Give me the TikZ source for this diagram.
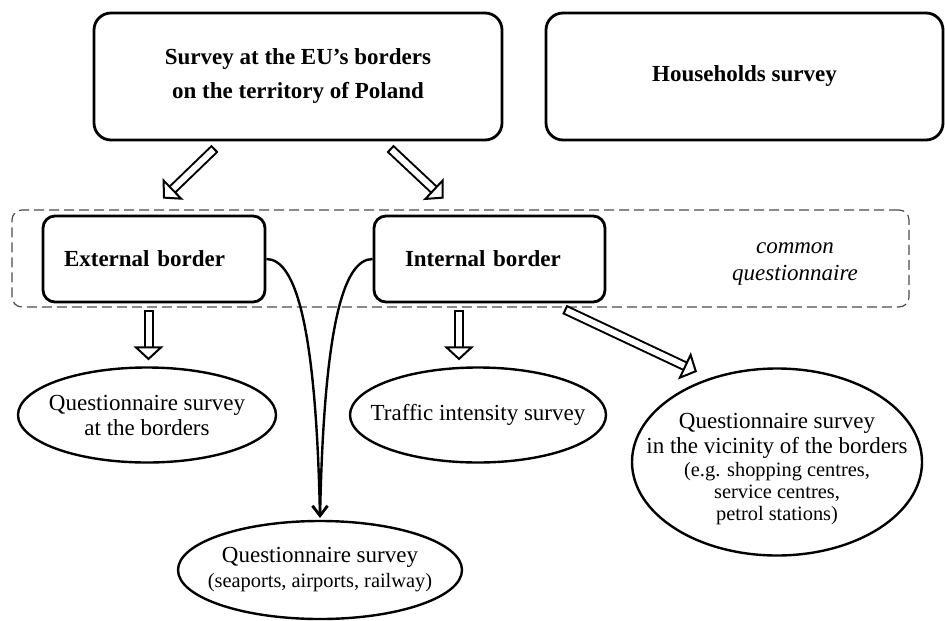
\documentclass[tikz,border=0pt]{standalone}
\usepackage{fontspec}
\setmainfont{Liberation Serif}
\usetikzlibrary{shapes.geometric,arrows.meta}
\tikzset{>=stealth}
\newcommand{\smalltxt}{\fontsize{10.2}{10.5}\selectfont}
\tikzset{%
    bigbox/.style={draw, line width=1.4pt, rounded corners=8.5pt, align=center,
        minimum height=63.5pt, font=\fontsize{11.5}{12.5}\selectfont\bfseries},
    borderbox/.style={draw, line width=1.4pt, rounded corners=6pt, align=left,
        minimum height=43pt, font=\fontsize{11.5}{12.5}\selectfont\bfseries},
    oval/.style={draw, ellipse, line width=1.2pt, align=center, inner xsep=-20pt,
        inner ysep=-5pt, font=\fontsize{11.5}{12.5}\selectfont},
    dblarrow/.style={double, double distance=3pt, line width=1pt,
        {Bar[width=5pt, line width=1pt]}-{Triangle[open, width=15pt, length=7pt, line width=1pt]}},
    curvearrow/.style={line width=1.2pt, -{Straight Barb[length=5pt, width=7.5pt]}}
}

\begin{document}
\begin{tikzpicture}[x=0.5pt,y=-0.5pt]
    \useasboundingbox (0,0) rectangle (945,620);
    % surveys
    \node[bigbox, minimum width=204pt] (eu) at (298,76.5) {Survey at the EU's borders\\[4.5pt]on the territory of Poland};
    \node[bigbox, minimum width=198.5pt] (hh) at (744.5,76.5) {Households survey};

    \node[draw=black!70, dashed, dash pattern=on 5pt off 2.5pt, line width=0.6pt, rounded corners=5pt,
        minimum width=448.5pt, minimum height=48.5pt] (group) at (460.5,258.5) {};
    \node[font=\fontsize{11.5}{13.5}\selectfont\itshape, align=center] (cq) at (795,264) {common\\questionnaire};

    \node[borderbox, inner xsep=10.5pt, text width=90pt] (ext) at (154,259) {External border};
    \node[borderbox, inner xsep=15.5pt, text width=84.5pt] (int) at (489.5,259) {Internal border};

    % questionnaires
    \node[oval, minimum width=129pt, minimum height=47.5pt] (atb) at (147,415) {Questionnaire survey\\at the borders};
    \node[oval, minimum width=128pt, minimum height=47.5pt] (traffic) at (478,415) {Traffic intensity survey};
    \node[oval, minimum width=145pt, minimum height=93.5pt] (vic) at (777,462) {\rule{0pt}{15pt}Questionnaire survey\\in the vicinity of the borders\\[-1pt]\smalltxt (e.g. shopping centres,\\[-1.5pt]\smalltxt service centres,\\[-1.5pt]\smalltxt petrol stations)};
    \node[oval, minimum width=142pt, minimum height=49pt] (sea) at (320,570) {Questionnaire survey\\\smalltxt (seaports, airports, railway)};

    \draw[dblarrow] ([xshift=-41.5pt,yshift=-3.5pt]eu.south) -- ([xshift=4.5pt,yshift=8pt]ext.north);
    \draw[dblarrow] ([xshift=46pt,yshift=-3.5pt]eu.south) -- ([xshift=-23pt,yshift=8pt]int.north);
    \draw[dblarrow] ([xshift=-2.75pt,yshift=-3.5pt]ext.south) -- ([xshift=0.75pt,yshift=3pt]atb.north);
    \draw[dblarrow] ([xshift=-15.25pt,yshift=-3.5pt]int.south) -- ([xshift=-9.5pt,yshift=3pt]traffic.north);
    \draw[dblarrow] ([xshift=-21pt,yshift=-3pt]int.south east) -- ([xshift=-40pt,yshift=-2.25pt]vic.north);

    \draw[curvearrow] (ext.east) .. controls +(30,0) and +(-4,-188) .. ([yshift=1pt]sea.north);
    \draw[curvearrow] (int.west) .. controls +(-30,0) and +(4,-188) .. ([yshift=1pt]sea.north);
\end{tikzpicture}
\end{document}
